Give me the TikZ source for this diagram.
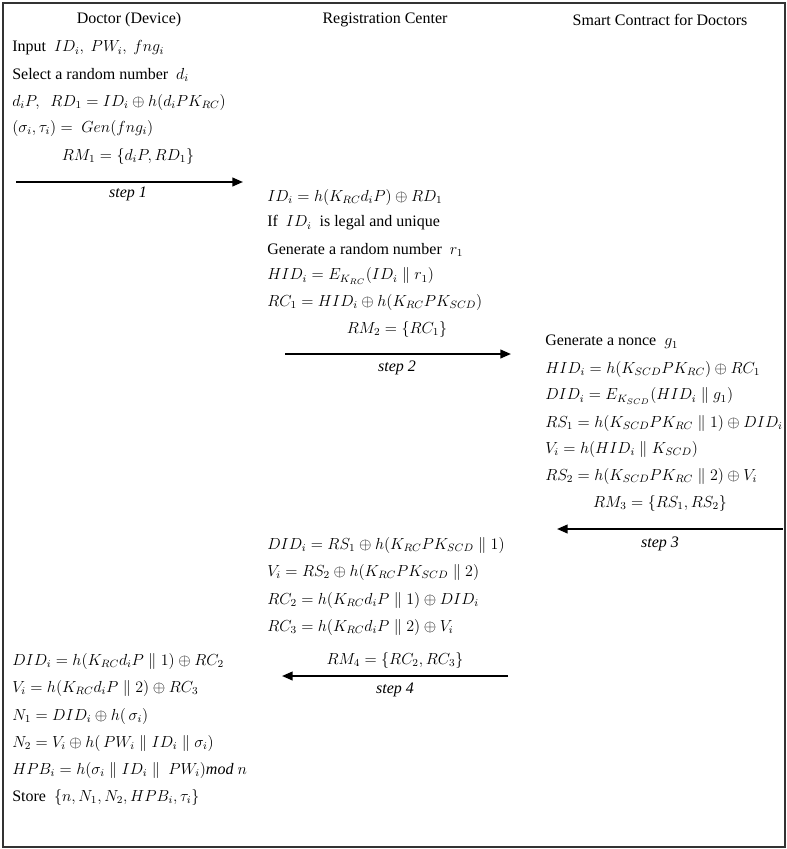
\documentclass[tikz,border=0pt]{standalone}
\usepackage{fontspec}
\setmainfont{Liberation Serif}
\usetikzlibrary{arrows.meta}
\begin{document}
\begin{tikzpicture}[x=0.75pt,y=-0.75pt,
  txt/.style={anchor=west,inner sep=0pt,font=\fontsize{12}{14}\selectfont},
  ctr/.style={anchor=center,inner sep=0pt,font=\fontsize{12}{14}\selectfont},
  msg/.style={line width=1.5pt,-{Triangle[length=8pt,width=6.5pt]}},
  frame/.style={draw=black!80,line width=1.5pt}]
\useasboundingbox (0,0) rectangle (786,849);
\draw[frame] (3,3) rectangle (785,847);
% headers
\node[ctr] (h1) at (129,20) {Doctor (Device)};
\node[ctr] (h2) at (385,20) {Registration Center};
\node[ctr] (h3) at (660,20) {Smart Contract for Doctors};
% doctor, phase 1
\node[txt] (d1) at (12,48) {Input \ $ID_i,\ PW_i,\ fng_i$};
\node[txt] (d2) at (12,75) {Select a random number \ $d_i$};
\node[txt] (d3) at (12,102) {$d_iP,\ \ RD_1=ID_i\oplus h(d_iPK_{RC})$};
\node[txt] (d4) at (12,128) {$(\sigma_i,\tau_i)=\ Gen(fng_i)$};
\node[ctr] (m1) at (128,156) {$RM_1=\{d_iP,RD_1\}$};
\coordinate (a1s) at (16,182);
\coordinate (a1e) at (243,182);
\draw[msg] (a1s) -- (a1e);
\node[ctr] (s1) at (128,194) {\textit{step 1}};
% registration center, phase 1
\node[txt] (r1) at (267,197) {$ID_i=h(K_{RC}d_iP)\oplus RD_1$};
\node[txt] (r2) at (267,223) {If \ $ID_i$ \ is legal and unique};
\node[txt] (r3) at (267,250) {Generate a random number \ $r_1$};
\node[txt] (r4) at (267,276) {$HID_i=E_{K_{RC}}(ID_i\parallel r_1)$};
\node[txt] (r5) at (267,302) {$RC_1=HID_i\oplus h(K_{RC}PK_{SCD})$};
\node[ctr] (m2) at (397,329) {$RM_2=\{RC_1\}$};
\coordinate (a2s) at (285,354);
\coordinate (a2e) at (511,354);
\draw[msg] (a2s) -- (a2e);
\node[ctr] (s2) at (397,368) {\textit{step 2}};
% smart contract
\node[txt] (c1) at (545,342) {Generate a nonce \ $g_1$};
\node[txt] (c2) at (545,369) {$HID_i=h(K_{SCD}PK_{RC})\oplus RC_1$};
\node[txt] (c3) at (545,396) {$DID_i=E_{K_{SCD}}(HID_i\parallel g_1)$};
\node[txt] (c4) at (545,423) {$RS_1=h(K_{SCD}PK_{RC}\parallel 1)\oplus DID_i$};
\node[txt] (c5) at (545,449) {$V_i=h(HID_i\parallel K_{SCD})$};
\node[txt] (c6) at (545,476) {$RS_2=h(K_{SCD}PK_{RC}\parallel 2)\oplus V_i$};
\node[ctr] (m3) at (660,503) {$RM_3=\{RS_1,RS_2\}$};
\coordinate (a3s) at (783,529);
\coordinate (a3e) at (557,529);
\draw[msg] (a3s) -- (a3e);
\node[ctr] (s3) at (660,544) {\textit{step 3}};
% registration center, phase 2
\node[txt] (r6) at (267,545) {$DID_i=RS_1\oplus h(K_{RC}PK_{SCD}\parallel 1)$};
\node[txt] (r7) at (267,572) {$V_i=RS_2\oplus h(K_{RC}PK_{SCD}\parallel 2)$};
\node[txt] (r8) at (267,600) {$RC_2=h(K_{RC}d_iP\parallel 1)\oplus DID_i$};
\node[txt] (r9) at (267,627) {$RC_3=h(K_{RC}d_iP\parallel 2)\oplus V_i$};
\node[ctr] (m4) at (395,660) {$RM_4=\{RC_2,RC_3\}$};
\coordinate (a4s) at (508,676);
\coordinate (a4e) at (282,676);
\draw[msg] (a4s) -- (a4e);
\node[ctr] (s4) at (395,690) {\textit{step 4}};
% doctor, phase 2
\node[txt] (d5) at (12,661) {$DID_i=h(K_{RC}d_iP\parallel 1)\oplus RC_2$};
\node[txt] (d6) at (12,688) {$V_i=h(K_{RC}d_iP\parallel 2)\oplus RC_3$};
\node[txt] (d7) at (12,716) {$N_1=DID_i\oplus h(\,\sigma_i)$};
\node[txt] (d8) at (12,743) {$N_2=V_i\oplus h(\,PW_i\parallel ID_i\parallel \sigma_i)$};
\node[txt] (d9) at (12,770) {$HPB_i=h(\sigma_i\parallel ID_i\parallel\ PW_i)\mathit{mod}\ n$};
\node[txt] (d10) at (12,797) {Store \ $\{n,N_1,N_2,HPB_i,\tau_i\}$};
\end{tikzpicture}
\end{document}
